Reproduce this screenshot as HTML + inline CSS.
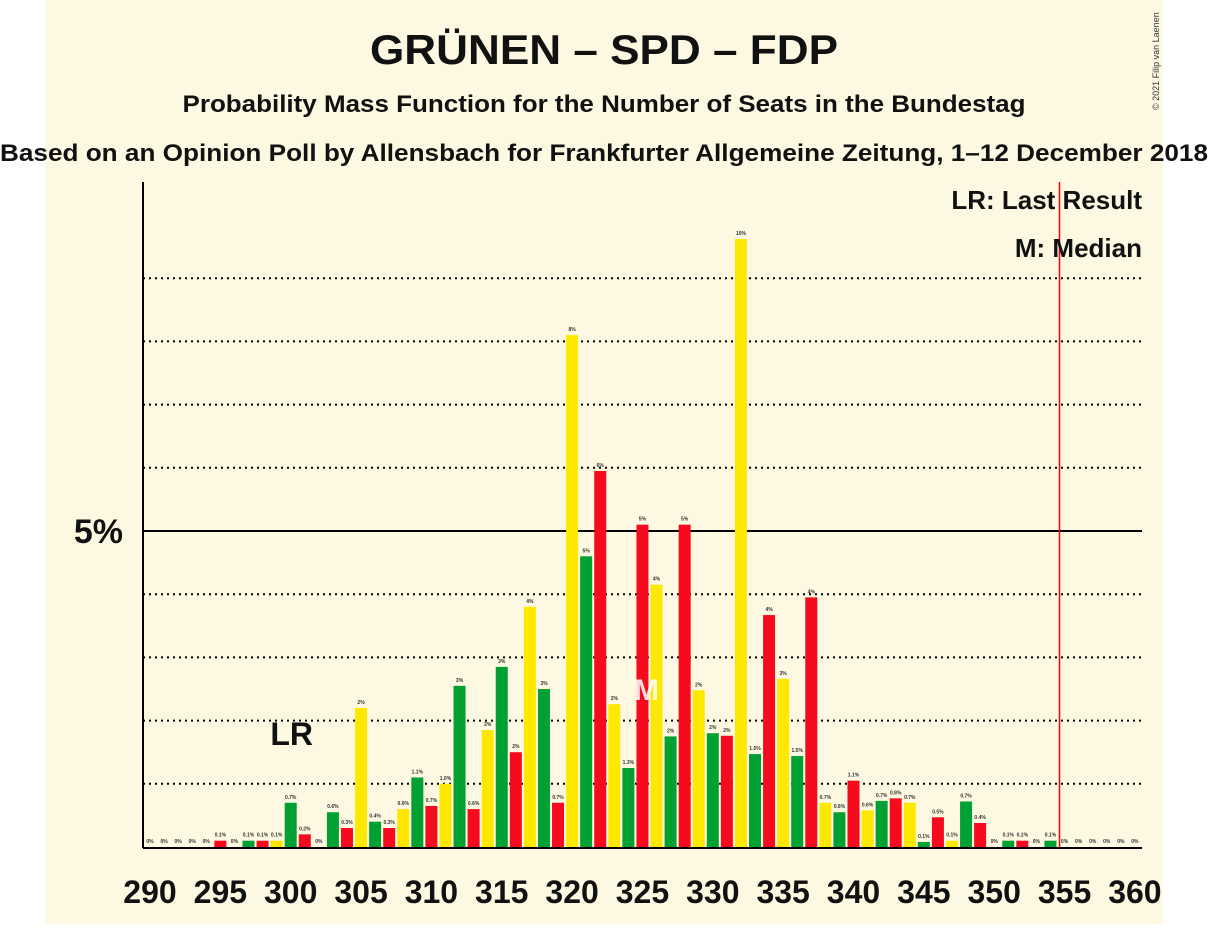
<!DOCTYPE html>
<html><head><meta charset="utf-8"><style>
body{margin:0;background:#fff;}
svg text{font-family:"Liberation Sans",sans-serif;}
</style></head><body>
<svg id="chart" width="1209" height="924" xmlns="http://www.w3.org/2000/svg">
<rect x="45" y="0" width="1118" height="924" fill="#fdf8e1"/>
<text x="604" y="64" text-anchor="middle" font-size="42" font-weight="bold" fill="#111" textLength="468" lengthAdjust="spacingAndGlyphs">GRÜNEN – SPD – FDP</text>
<text x="604" y="112" text-anchor="middle" font-size="24" font-weight="bold" fill="#111" textLength="843" lengthAdjust="spacingAndGlyphs">Probability Mass Function for the Number of Seats in the Bundestag</text>
<text x="604" y="161" text-anchor="middle" font-size="24" font-weight="bold" fill="#111" textLength="1208" lengthAdjust="spacingAndGlyphs">Based on an Opinion Poll by Allensbach for Frankfurter Allgemeine Zeitung, 1–12 December 2018</text>
<text x="1159" y="110" font-size="9" fill="#333" transform="rotate(-90 1159 110)">© 2021 Filip van Laenen</text>
<g id="grid"></g>
<g id="bars"></g>
<g id="labels"></g>
<line x1="143" y1="182" x2="143" y2="848" stroke="#000" stroke-width="2"/>
<line x1="143" y1="848" x2="1142" y2="848" stroke="#000" stroke-width="2"/>
<text x="123" y="543" text-anchor="end" font-size="34" font-weight="bold" fill="#111">5%</text>
<text x="1142" y="209" text-anchor="end" font-size="26" font-weight="bold" fill="#111">LR: Last Result</text>
<text x="1142" y="257" text-anchor="end" font-size="26" font-weight="bold" fill="#111">M: Median</text>
<g id="xticks"></g>
</svg>
<script>
const seats=[290,291,292,293,294,295,296,297,298,299,300,301,302,303,304,305,306,307,308,309,310,311,312,313,314,315,316,317,318,319,320,321,322,323,324,325,326,327,328,329,330,331,332,333,334,335,336,337,338,339,340,341,342,343,344,345,346,347,348,349,350,351,352,353,354,355,356,357,358,359,360];
const probs=[0,0,0,0,0,0.1,0,0.1,0.1,0.1,0.7,0.2,0,0.55,0.3,2.2,0.4,0.3,0.6,1.1,0.65,1.0,2.55,0.6,1.85,2.85,1.5,3.8,2.5,0.7,8.1,4.6,5.95,2.26,1.25,5.1,4.15,1.75,5.1,2.48,1.8,1.76,9.62,1.47,3.67,2.66,1.44,3.95,0.7,0.55,1.05,0.58,0.73,0.77,0.7,0.08,0.47,0.1,0.72,0.38,0,0.1,0.1,0,0.1,0,0,0,0,0,0];
const valueLabels=["0%","0%","0%","0%","0%","0.1%","0%","0.1%","0.1%","0.1%","0.7%","0.2%","0%","0.6%","0.3%","2%","0.4%","0.3%","0.6%","1.1%","0.7%","1.0%","3%","0.6%","2%","3%","2%","4%","3%","0.7%","8%","5%","6%","2%","1.3%","5%","4%","2%","5%","2%","2%","2%","10%","1.5%","4%","3%","1.5%","4%","0.7%","0.6%","1.1%","0.6%","0.7%","0.8%","0.7%","0.1%","0.5%","0.1%","0.7%","0.4%","0%","0.1%","0.1%","0%","0.1%","0%","0%","0%","0%","0%","0%"];
const xTicks=[290,295,300,305,310,315,320,325,330,335,340,345,350,355,360];
const gridLevels=[1,2,3,4,6,7,8,9];
const lastResult=300, median=325, majority=354.5;
const X=s=>150+(s-290)*14.07;
const Y=p=>847-p*63.2;
const NS="http://www.w3.org/2000/svg";
function mk(t,a,p){const e=document.createElementNS(NS,t);for(const k in a)e.setAttribute(k,a[k]);document.getElementById(p).appendChild(e);return e;}
gridLevels.forEach(g=>{const l=mk('line',{x1:143,x2:1142,y1:Y(g),y2:Y(g),stroke:'#000','stroke-width':2,'stroke-dasharray':'2,4'},'grid');

});
const l5=mk('line',{x1:143,x2:1142,y1:Y(5),y2:Y(5),stroke:'#000','stroke-width':2},'grid');


const colors=['#00a032','#f50a1e','#ffe800'];
seats.forEach((s,i)=>{const p=probs[i];
if(p>0){const r=mk('rect',{x:X(s)-6,y:Y(p),width:12,height:847-Y(p),fill:colors[s%3]},'bars');

}
const t=mk('text',{x:X(s),y:Y(p)-4,'text-anchor':'middle','font-size':5,'font-weight':'bold',fill:'#333'},'labels');
t.textContent=valueLabels[i];

});
xTicks.forEach(s=>{const t=mk('text',{x:X(s),y:903,'text-anchor':'middle','font-size':32,'font-weight':'bold',fill:'#111'},'xticks');
t.textContent=s;

});
const lr=mk('text',{x:X(lastResult)+1,y:745,'text-anchor':'middle','font-size':32,'font-weight':'bold',fill:'#111'},'labels');
lr.textContent='LR';


const m=mk('text',{x:X(median)+4,y:700,'text-anchor':'middle','font-size':30,'font-weight':'bold',fill:'#fff',opacity:0.85},'labels');
m.textContent='M';


const mj=mk('line',{x1:X(majority)+2,x2:X(majority)+2,y1:182,y2:848,stroke:'#f00','stroke-width':1.5},'labels');


</script>
</body></html>
